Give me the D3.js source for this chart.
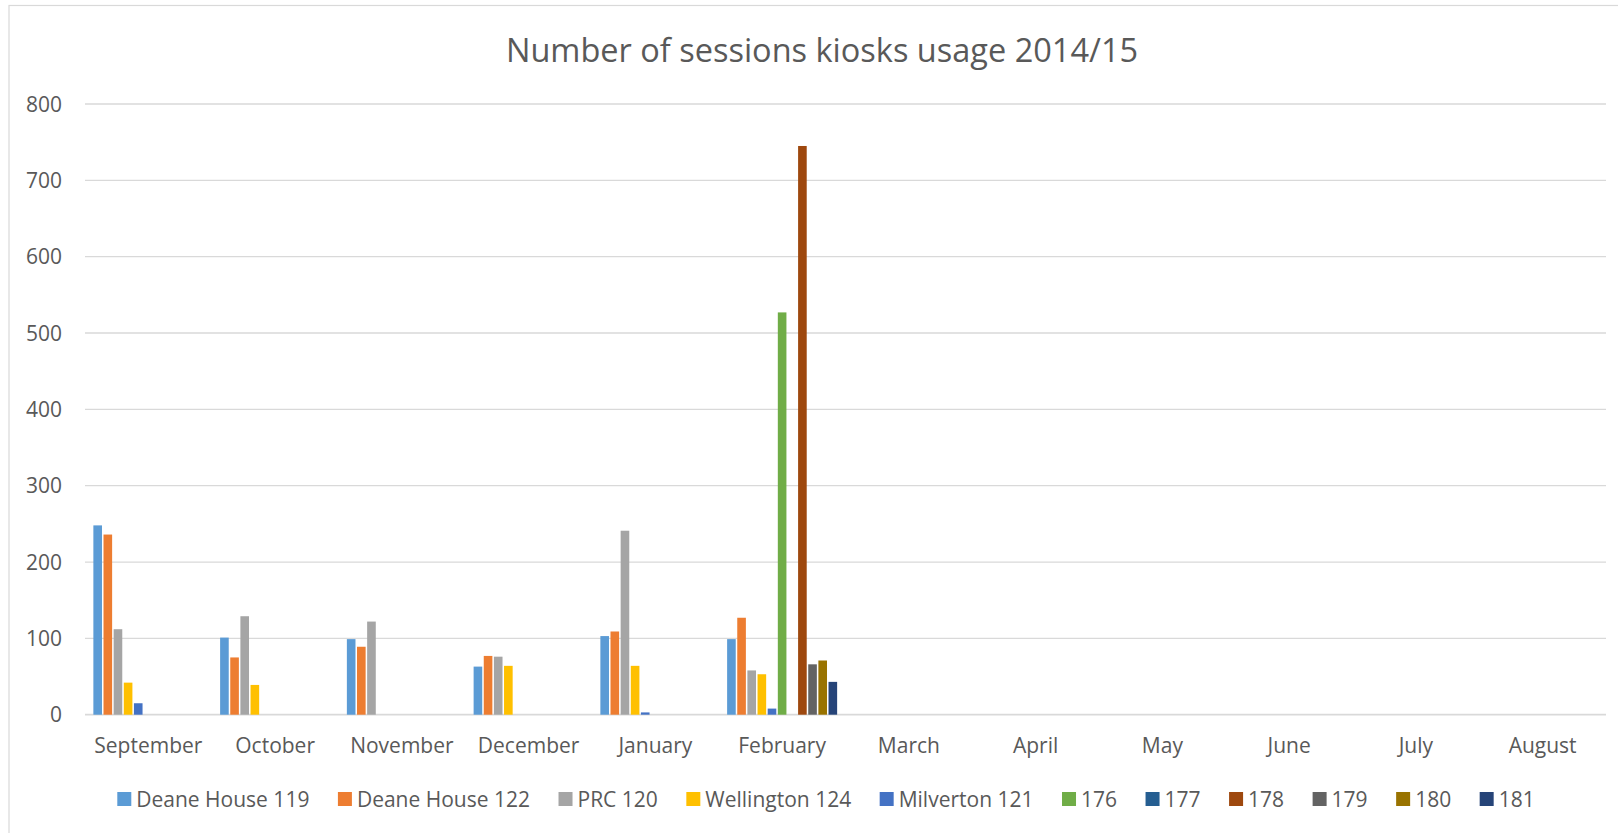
<!DOCTYPE html>
<html>
<head>
<meta charset="utf-8">
<script src="https://cdn.jsdelivr.net/npm/d3@7"></script>
<style>
  html, body { margin: 0; padding: 0; background: #fff; }
  svg { display: block; font-family: "Open Sans", sans-serif; }
</style>
</head>
<body>
<svg id="chart" width="1618" height="833"></svg>
<script>
// months on the x axis
const months = ['September', 'October', 'November', 'December', 'January', 'February',
    'March', 'April', 'May', 'June', 'July', 'August'];

// kiosk names, in legend order
const kiosks = ['Deane House 119', 'Deane House 122', 'PRC 120', 'Wellington 124',
    'Milverton 121', '176', '177', '178', '179', '180', '181'];

const colours = ['#5B9BD5', '#ED7D31', '#A5A5A5', '#FFC000', '#4472C4', '#70AD47',
    '#255E91', '#9E480E', '#636363', '#997300', '#264478'];

// sessions per kiosk, one value per month (null = no data yet)
const deaneHouse119 = [248, 101, 99, 63, 103, 99, null, null, null, null, null, null];
const deaneHouse122 = [236, 75, 89, 77, 109, 127, null, null, null, null, null, null];
const prc120 = [112, 129, 122, 76, 241, 58, null, null, null, null, null, null];
const wellington124 = [42, 39, 0, 64, 64, 53, null, null, null, null, null, null];
const milverton121 = [15, 0, 0, 0, 3, 8, null, null, null, null, null, null];
const k176 = [0, 0, 0, 0, 0, 527, null, null, null, null, null, null];
const k177 = [0, 0, 0, 0, 0, 0, null, null, null, null, null, null];
const k178 = [0, 0, 0, 0, 0, 745, null, null, null, null, null, null];
const k179 = [0, 0, 0, 0, 0, 66, null, null, null, null, null, null];
const k180 = [0, 0, 0, 0, 0, 71, null, null, null, null, null, null];
const k181 = [0, 0, 0, 0, 0, 43, null, null, null, null, null, null];

const yTicks = [0, 100, 200, 300, 400, 500, 600, 700, 800];

const series = [deaneHouse119, deaneHouse122, prc120, wellington124, milverton121,
    k176, k177, k178, k179, k180, k181];

const textColour = '#595959';
const gridColour = '#D9D9D9';

var svg = d3.select('#chart');

// chart border (only left and top edges fall inside the picture)
svg.append('rect')
    .attr('x', 9)
    .attr('y', 5.5)
    .attr('width', 1640)
    .attr('height', 860)
    .attr('fill', 'none')
    .attr('stroke', gridColour)
    .attr('stroke-width', 1.2);

var plot = { left: 85, right: 1606, top: 104, bottom: 714.7 };

var x0 = d3.scaleBand()
    .domain(months)
    .range([plot.left, plot.right])
    .paddingInner(0)
    .paddingOuter(0);

var x1 = d3.scaleBand()
    .domain(kiosks)
    .range([0, x0.bandwidth()])
    .paddingInner(0.15)
    .paddingOuter(0.825);

var y = d3.scaleLinear()
    .domain([0, 800])
    .range([plot.bottom, plot.top]);

// gridlines
svg.append('g')
    .selectAll('line')
    .data(yTicks)
    .join('line')
    .attr('x1', plot.left)
    .attr('x2', plot.right)
    .attr('y1', d => y(d))
    .attr('y2', d => y(d))
    .attr('stroke', gridColour)
    .attr('stroke-width', d => d === 0 ? 1.8 : 1.3);

// y labels
svg.append('g')
    .selectAll('text')
    .data(yTicks)
    .join('text')
    .attr('x', 62)
    .attr('y', d => y(d))
    .attr('dy', '0.36em')
    .attr('text-anchor', 'end')
    .attr('font-size', 21)
    .attr('fill', textColour)
    .text(d => d);

// bars
var groups = svg.append('g')
    .selectAll('g')
    .data(series)
    .join('g')
    .attr('fill', (d, i) => colours[i]);

groups.each(function (values, i) {
    d3.select(this)
        .selectAll('rect')
        .data(values.map((v, m) => ({ month: months[m], value: v })).filter(d => d.value))
        .join('rect')
        .attr('x', d => x0(d.month) + x1(kiosks[i]))
        .attr('width', x1.bandwidth())
        .attr('y', d => y(d.value))
        .attr('height', d => y(0) - y(d.value));
});

// month labels
svg.append('g')
    .selectAll('text')
    .data(months)
    .join('text')
    .attr('x', d => x0(d) + x0.bandwidth() / 2)
    .attr('y', 753)
    .attr('text-anchor', 'middle')
    .attr('font-size', 21)
    .attr('fill', textColour)
    .text(d => d);

// title
svg.append('text')
    .attr('x', 822)
    .attr('y', 62)
    .attr('text-anchor', 'middle')
    .attr('font-size', 32.5)
    .attr('fill', textColour)
    .text('Number of sessions kiosks usage 2014/15');

// legend
var legend = svg.append('g');
var items = legend.selectAll('g')
    .data(kiosks)
    .join('g');

items.append('rect')
    .attr('width', 14)
    .attr('height', 14)
    .attr('y', 792)
    .attr('fill', (d, i) => colours[i]);

items.append('text')
    .attr('x', 19)
    .attr('y', 807)
    .attr('font-size', 21)
    .attr('fill', textColour)
    .text(d => d);

var spacing = 28.5;
var pos = 0;
items.each(function () {
    let w = this.querySelector('text').getComputedTextLength();
    d3.select(this).attr('transform', 'translate(' + pos + ',0)');
    pos += 19 + w + spacing;
});
var total = pos - spacing;
legend.attr('transform', 'translate(' + (826 - total / 2) + ',0)');
</script>
</body>
</html>
